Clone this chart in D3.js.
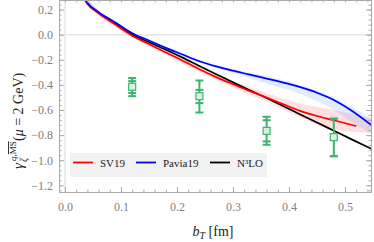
<!DOCTYPE html>
<html>
<head>
<meta charset="utf-8">
<script src="https://cdn.jsdelivr.net/npm/d3@7"></script>
<style>
  body { margin: 0; background: #fff; }
  svg { display: block; }
</style>
</head>
<body>
<svg width="374" height="242"></svg>
<script>
var svg = d3.select("svg");
var serif = "'Liberation Serif', 'DejaVu Serif', serif";

// curves (b_T in fm)
var blueB = [0.03, 0.04, 0.06, 0.09, 0.12, 0.15, 0.18, 0.21, 0.24, 0.27, 0.30, 0.33, 0.36, 0.39, 0.42, 0.45, 0.48, 0.51, 0.55];
var blueY = [0.33, 0.255, 0.18, 0.097, 0.012, -0.046, -0.105, -0.158, -0.212, -0.253, -0.287, -0.318, -0.35, -0.382, -0.418, -0.462, -0.52, -0.6, -0.73];
var redB = [0.03, 0.04, 0.06, 0.09, 0.12, 0.15, 0.18, 0.21, 0.24, 0.27, 0.30, 0.33, 0.36, 0.39, 0.42, 0.45, 0.48, 0.52];
var redY = [0.32, 0.245, 0.17, 0.08, -0.008, -0.075, -0.142, -0.207, -0.275, -0.338, -0.395, -0.45, -0.50, -0.555, -0.607, -0.648, -0.682, -0.728];
var blackB = [0.03, 0.04, 0.06, 0.09, 0.12, 0.15, 0.18, 0.21, 0.24, 0.27, 0.30, 0.33, 0.36, 0.39, 0.42, 0.45, 0.48, 0.51, 0.55];
var blackY = [0.32, 0.25, 0.175, 0.09, 0.0, -0.06, -0.12, -0.183, -0.25, -0.315, -0.38, -0.443, -0.505, -0.57, -0.635, -0.70, -0.765, -0.83, -0.915];

// uncertainty bands
var redBandB = [0.03, 0.06, 0.12, 0.18, 0.24, 0.30, 0.36, 0.42, 0.48, 0.52, 0.55];
var redBandLo = [0.30, 0.155, -0.02, -0.158, -0.295, -0.42, -0.535, -0.66, -0.76, -0.775, -0.785];
var redBandHi = [0.34, 0.185, 0.006, -0.126, -0.255, -0.37, -0.465, -0.55, -0.60, -0.64, -0.67];
var blueBandB = [0.03, 0.06, 0.12, 0.18, 0.24, 0.30, 0.36, 0.42, 0.48, 0.51, 0.55];
var blueBandLo = [0.32, 0.17, 0.004, -0.116, -0.226, -0.305, -0.39, -0.47, -0.60, -0.69, -0.80];
var blueBandHi = [0.345, 0.19, 0.02, -0.097, -0.202, -0.275, -0.33, -0.40, -0.50, -0.57, -0.68];

// lattice points
var ptB = [0.12, 0.24, 0.36, 0.48];
var ptY = [-0.415, -0.49, -0.766, -0.816];
var ptOutLo = [-0.49, -0.62, -0.877, -0.968];
var ptOutHi = [-0.345, -0.365, -0.654, -0.669];
var ptInLo = [-0.465, -0.545, -0.85, -0.968];
var ptInHi = [-0.37, -0.44, -0.682, -0.669];

var legendNames = ["SV19", "Pavia19", "N³LO"];
var legendColors = ["#ff0000", "#0000ff", "#000000"];

var mL = 59, mR = 371, mT = 0, mB = 192;
var x = d3.scaleLinear().domain([-0.0107, 0.5464]).range([mL, mR]);
var y = d3.scaleLinear().domain([-1.253, 0.276]).range([mB, mT]);

svg.append("clipPath").attr("id", "clip")
  .append("rect").attr("x", mL).attr("y", mT)
  .attr("width", mR - mL).attr("height", mB - mT);

// zero grid lines
svg.append("line").attr("x1", mL).attr("x2", mR)
  .attr("y1", y(0)).attr("y2", y(0))
  .attr("stroke", "#e6e6e6").attr("stroke-width", 1.5);
svg.append("line").attr("x1", x(0)).attr("x2", x(0))
  .attr("y1", mT).attr("y2", mB)
  .attr("stroke", "#e6e6e6").attr("stroke-width", 1.5);

var plot = svg.append("g").attr("clip-path", "url(#clip)");

function band(bs, lo, hi, fill) {
  var d = bs.map(function(b, i) { return [b, lo[i], hi[i]]; });
  plot.append("path").datum(d)
    .attr("d", d3.area()
      .x(function(p) { return x(p[0]); })
      .y0(function(p) { return y(p[1]); })
      .y1(function(p) { return y(p[2]); })
      .curve(d3.curveMonotoneX))
    .attr("fill", fill);
}
band(redBandB, redBandLo, redBandHi, "rgba(255,60,60,0.16)");
band(blueBandB, blueBandLo, blueBandHi, "rgba(60,140,255,0.16)");

function curve(bs, ys, color) {
  var d = bs.map(function(b, i) { return [b, ys[i]]; });
  plot.append("path").datum(d)
    .attr("d", d3.line()
      .x(function(p) { return x(p[0]); })
      .y(function(p) { return y(p[1]); })
      .curve(d3.curveMonotoneX))
    .attr("fill", "none")
    .attr("stroke", color)
    .attr("stroke-width", 1.7);
}
curve(blackB, blackY, "#000000");
curve(redB, redY, "#ff0000");
curve(blueB, blueY, "#0000ff");

// error bars
var green = "#3cb46e";
var pts = plot.selectAll("g.pt")
  .data(ptB.map(function(b, i) { return i; }))
  .enter().append("g").attr("class", "pt");

pts.append("line")
  .attr("x1", function(i) { return x(ptB[i]); })
  .attr("x2", function(i) { return x(ptB[i]); })
  .attr("y1", function(i) { return y(ptOutLo[i]); })
  .attr("y2", function(i) { return y(ptOutHi[i]); })
  .attr("stroke", green).attr("stroke-width", 2);

[ptOutLo, ptOutHi, ptInLo, ptInHi].forEach(function(arr) {
  pts.append("line")
    .attr("x1", function(i) { return x(ptB[i]) - 4; })
    .attr("x2", function(i) { return x(ptB[i]) + 4; })
    .attr("y1", function(i) { return y(arr[i]); })
    .attr("y2", function(i) { return y(arr[i]); })
    .attr("stroke", green).attr("stroke-width", 2);
});

pts.append("rect")
  .attr("x", function(i) { return x(ptB[i]) - 3.5; })
  .attr("y", function(i) { return y(ptY[i]) - 3.5; })
  .attr("width", 7).attr("height", 7)
  .attr("fill", "#d8f0e2")
  .attr("stroke", green).attr("stroke-width", 1.2);

// legend
var lg = svg.append("g");
lg.append("rect").attr("x", 70).attr("y", 153).attr("width", 197).attr("height", 24)
  .attr("fill", "#f2f2f2");
var lx = [73, 136, 210];
legendNames.forEach(function(n, i) {
  lg.append("line").attr("x1", lx[i]).attr("x2", lx[i] + 20)
    .attr("y1", 162.5).attr("y2", 162.5)
    .attr("stroke", legendColors[i]).attr("stroke-width", 1.8);
  lg.append("text").attr("x", lx[i] + 27).attr("y", 166.5)
    .attr("font-family", serif)
    .attr("font-size", "11px").attr("fill", "#222")
    .text(n);
});

// axes
var fmt = d3.format(".1f");
var tickFont = function(g) {
  g.selectAll("text")
    .attr("font-family", serif)
    .attr("font-size", "12px").attr("fill", "#808080");
  g.select(".domain").attr("stroke", "#aaa");
  g.selectAll(".tick line").attr("stroke", "#aaa");
};
var xMajor = d3.range(0, 0.55, 0.1);
var xMinor = d3.range(0, 0.55, 0.02);
var yMajor = d3.range(-1.2, 0.25, 0.2);
var yMinor = d3.range(-1.24, 0.27, 0.04);

svg.append("g").attr("transform", "translate(0," + mB + ")")
  .call(d3.axisBottom(x).tickValues(xMinor).tickSize(-2.5).tickFormat("").tickSizeOuter(0))
  .call(tickFont);
svg.append("g").attr("transform", "translate(0," + mB + ")")
  .call(d3.axisBottom(x).tickValues(xMajor).tickSize(-5).tickPadding(10).tickFormat(fmt).tickSizeOuter(0))
  .call(tickFont);
svg.append("g").attr("transform", "translate(0," + mT + ")")
  .call(d3.axisTop(x).tickValues(xMinor).tickSize(-2.5).tickFormat("").tickSizeOuter(0))
  .call(tickFont);
svg.append("g").attr("transform", "translate(" + mL + ",0)")
  .call(d3.axisLeft(y).tickValues(yMinor).tickSize(-2.5).tickFormat("").tickSizeOuter(0))
  .call(tickFont);
svg.append("g").attr("transform", "translate(" + mL + ",0)")
  .call(d3.axisLeft(y).tickValues(yMajor).tickSize(-5).tickPadding(6).tickFormat(fmt).tickSizeOuter(0))
  .call(tickFont);
svg.append("g").attr("transform", "translate(" + mR + ",0)")
  .call(d3.axisRight(y).tickValues(yMinor).tickSize(-2.5).tickFormat("").tickSizeOuter(0))
  .call(tickFont);
svg.append("g").attr("transform", "translate(" + mR + ",0)")
  .call(d3.axisRight(y).tickValues(yMajor).tickSize(-5).tickFormat("").tickSizeOuter(0))
  .call(tickFont);

// axis titles
var xt = svg.append("text").attr("x", 213).attr("y", 236)
  .attr("text-anchor", "middle")
  .attr("font-family", serif).attr("font-size", "14px").attr("fill", "#222");
xt.append("tspan").attr("font-style", "italic").text("b");
xt.append("tspan").attr("font-style", "italic").attr("font-size", "10px").attr("dy", 3).text("T");
xt.append("tspan").attr("dy", -3).text(" [fm]");

var yt = svg.append("g").attr("transform", "translate(23,96) rotate(-90)")
  .attr("font-family", serif).attr("fill", "#222");
yt.append("text").attr("x", -73).attr("y", 0).attr("font-size", "15px")
  .attr("font-style", "italic").text("γ");
yt.append("text").attr("x", -66).attr("y", 4).attr("font-size", "10px")
  .attr("font-style", "italic").text("ζ");
var sup = yt.append("text").attr("x", -65).attr("y", -7).attr("font-size", "9px");
sup.append("tspan").attr("font-style", "italic").text("q");
sup.append("tspan").text(",");
sup.append("tspan").style("text-decoration", "overline").text("MS");
yt.append("text").attr("x", -45).attr("y", 0).attr("font-size", "14px")
  .html("(<tspan font-style='italic'>μ</tspan> = 2 GeV)");
</script>
</body>
</html>
